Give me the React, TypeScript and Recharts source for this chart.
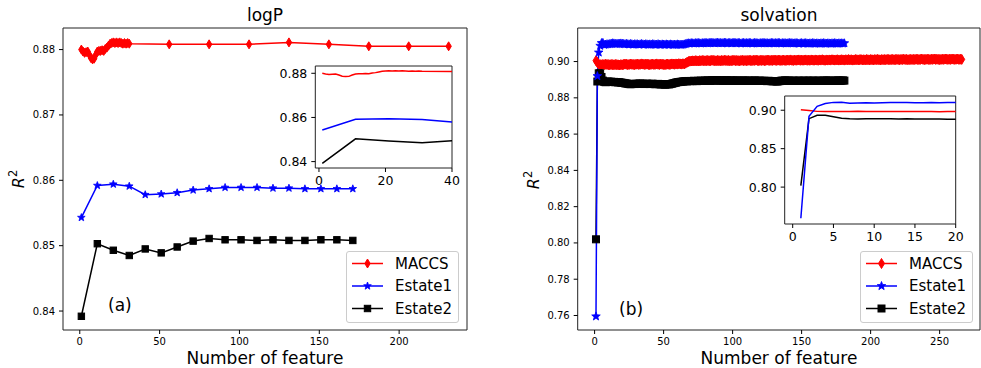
import React from "react";
import { LineChart, Line, XAxis, YAxis, CartesianGrid, ReferenceLine } from "recharts";

const FONT = "DejaVu Sans, sans-serif";

// ---- logP panel (a) ----
const LOGP_MACCS_X = [
  1, 2, 3, 4, 5, 6, 7, 8, 9, 10, 11, 12, 13, 14, 15, 16, 17, 18, 19, 20,
  21, 22, 23, 24, 25, 26, 27, 28, 29, 30, 31, 56, 81, 106, 131, 156, 181, 206, 231,
];
const LOGP_MACCS = [
  0.88, 0.8797, 0.8795, 0.8796, 0.8797, 0.8792, 0.8787, 0.8785, 0.8786, 0.8792,
  0.8797, 0.8798, 0.8798, 0.8799, 0.8798, 0.8801, 0.8803, 0.8806, 0.8809, 0.881,
  0.8811, 0.881, 0.8811, 0.881, 0.8811, 0.881, 0.8809, 0.881, 0.8809, 0.881, 0.8809,
  0.8808, 0.8808, 0.8808, 0.8811, 0.8808, 0.8805, 0.8805, 0.8805,
];
const LOGP_ESTATE_X = [1, 11, 21, 31, 41, 51, 61, 71, 81, 91, 101, 111, 121, 131, 141, 151, 161, 171];
const LOGP_ESTATE1 = [
  0.8543, 0.8592, 0.8594, 0.8591, 0.8578, 0.8579, 0.8581, 0.8585, 0.8587,
  0.8589, 0.8589, 0.8589, 0.8588, 0.8588, 0.8587, 0.8587, 0.8587, 0.8587,
];
const LOGP_ESTATE2 = [
  0.8392, 0.8503, 0.8493, 0.8485, 0.8495, 0.8489, 0.8498, 0.8507, 0.8511,
  0.8509, 0.8509, 0.8508, 0.8509, 0.8508, 0.8508, 0.8509, 0.8509, 0.8508,
];

// ---- solvation panel (b): one value per feature count, starting at 1 ----
const SOLV_MACCS = [
  0.9005, 0.8995, 0.8985, 0.8983, 0.8982, 0.8984, 0.8983, 0.8985, 0.8984, 0.8983,
  0.8982, 0.8984, 0.8983, 0.8982, 0.8984, 0.8983, 0.8982, 0.8981, 0.8983, 0.8982,
  0.8984, 0.8986, 0.8985, 0.8983, 0.8984, 0.8986, 0.8985, 0.8984, 0.8983, 0.8985,
  0.8986, 0.8984, 0.8985, 0.8987, 0.8986, 0.8984, 0.8985, 0.8986, 0.8984, 0.8983,
  0.8985, 0.8986, 0.8984, 0.8985, 0.8987, 0.8985, 0.8984, 0.8986, 0.8985, 0.8984,
  0.8983, 0.8985, 0.8986, 0.8984, 0.8985, 0.8987, 0.8986, 0.8985, 0.8987, 0.8986,
  0.8988, 0.8987, 0.8986, 0.8988, 0.8987, 0.8991, 0.8996, 0.9, 0.9002, 0.9003,
  0.9004, 0.9003, 0.9005, 0.9004, 0.9003, 0.9005, 0.9004, 0.9006, 0.9005, 0.9004,
  0.9005, 0.9006, 0.9004, 0.9005, 0.9007, 0.9006, 0.9005, 0.9004, 0.9006, 0.9005,
  0.9004, 0.9006, 0.9005, 0.9007, 0.9006, 0.9005, 0.9006, 0.9004, 0.9005, 0.9006,
  0.9007, 0.9005, 0.9006, 0.9005, 0.9004, 0.9006, 0.9007, 0.9005, 0.9006, 0.9005,
  0.9006, 0.9007, 0.9006, 0.9005, 0.9007, 0.9006, 0.9008, 0.9006, 0.9005, 0.9007,
  0.9006, 0.9007, 0.9005, 0.9006, 0.9008, 0.9007, 0.9006, 0.9007, 0.9006, 0.9008,
  0.9007, 0.9006, 0.9008, 0.9007, 0.9006, 0.9007, 0.9008, 0.9006, 0.9007, 0.9008,
  0.9007, 0.9009, 0.9007, 0.9006, 0.9008, 0.9007, 0.9008, 0.9009, 0.9007, 0.9008,
  0.9007, 0.9008, 0.9009, 0.9007, 0.9008, 0.9007, 0.9009, 0.9008, 0.9007, 0.9009,
  0.9008, 0.9007, 0.9009, 0.9008, 0.901, 0.9008, 0.9007, 0.9009, 0.9008, 0.9009,
  0.9008, 0.901, 0.9009, 0.9008, 0.9009, 0.901, 0.9008, 0.9009, 0.901, 0.9009,
  0.9008, 0.901, 0.9009, 0.9011, 0.9009, 0.901, 0.9008, 0.9009, 0.9011, 0.901,
  0.9009, 0.901, 0.9011, 0.9009, 0.901, 0.9009, 0.9011, 0.901, 0.9009, 0.9011,
  0.901, 0.9009, 0.9011, 0.901, 0.9012, 0.901, 0.9009, 0.9011, 0.901, 0.9011,
  0.901, 0.9012, 0.9011, 0.901, 0.9011, 0.9012, 0.901, 0.9011, 0.9012, 0.9011,
  0.901, 0.9012, 0.9011, 0.9013, 0.9011, 0.9012, 0.901, 0.9011, 0.9012, 0.9011,
  0.9012, 0.9011, 0.9013, 0.9012, 0.9011, 0.9012, 0.9014, 0.9012, 0.9011, 0.9012,
  0.9013, 0.9012, 0.9011, 0.9013, 0.9012, 0.9014, 0.9012, 0.9013, 0.9012, 0.9011,
  0.9012, 0.9013, 0.9012, 0.9014, 0.9013, 0.9012, 0.9013, 0.9012, 0.9014, 0.9013,
  0.9012, 0.9013, 0.9014, 0.9012, 0.9013, 0.9012,
];
const SOLV_ESTATE1 = [
  0.7595, 0.892, 0.905, 0.9087, 0.9102, 0.9103, 0.9092, 0.9094, 0.9096, 0.9095,
  0.9097, 0.9099, 0.9101, 0.91, 0.9098, 0.9097, 0.9099, 0.9098, 0.91, 0.9099,
  0.9097, 0.9096, 0.9098, 0.9096, 0.9095, 0.9097, 0.9096, 0.9094, 0.9096, 0.9095,
  0.9096, 0.9094, 0.9095, 0.9097, 0.9095, 0.9094, 0.9096, 0.9095, 0.9093, 0.9095,
  0.9094, 0.9096, 0.9095, 0.9093, 0.9094, 0.9096, 0.9094, 0.9093, 0.9095, 0.9094,
  0.9093, 0.9095, 0.9094, 0.9093, 0.9095, 0.9094, 0.9092, 0.9094, 0.9093, 0.9095,
  0.9094, 0.9093, 0.9092, 0.9094, 0.9095, 0.9097, 0.91, 0.9101, 0.91, 0.9102,
  0.9101, 0.91, 0.9102, 0.9101, 0.9103, 0.9101, 0.91, 0.9102, 0.9101, 0.9103,
  0.9102, 0.9101, 0.9103, 0.9102, 0.9104, 0.9102, 0.9101, 0.9103, 0.9104, 0.9102,
  0.9103, 0.9101, 0.9102, 0.9104, 0.9103, 0.9101, 0.9102, 0.9103, 0.9101, 0.9102,
  0.9104, 0.9102, 0.9101, 0.9103, 0.9102, 0.91, 0.9102, 0.9103, 0.9101, 0.9102,
  0.9101, 0.9103, 0.9102, 0.91, 0.9101, 0.9103, 0.9102, 0.9101, 0.91, 0.9102,
  0.9101, 0.9103, 0.9102, 0.9101, 0.9102, 0.91, 0.9101, 0.9103, 0.9102, 0.9101,
  0.9102, 0.9101, 0.9103, 0.9102, 0.91, 0.9102, 0.9101, 0.9102, 0.91, 0.9101,
  0.9103, 0.9101, 0.9102, 0.91, 0.9101, 0.9102, 0.9101, 0.9099, 0.9101, 0.9102,
  0.91, 0.9101, 0.9102, 0.91, 0.9099, 0.9101, 0.91, 0.9102, 0.9101, 0.9099,
  0.9101, 0.91, 0.9099, 0.9101, 0.91, 0.9102, 0.91, 0.9099, 0.9101, 0.91,
  0.9099, 0.9101, 0.91, 0.9102, 0.91, 0.9099, 0.9101, 0.91, 0.9101, 0.91,
  0.9101,
];
const SOLV_ESTATE2 = [
  0.802, 0.889, 0.8935, 0.8935, 0.8915, 0.8895, 0.8888, 0.8886, 0.8889, 0.889,
  0.8888, 0.8889, 0.8887, 0.8888, 0.8886, 0.8887, 0.8885, 0.8886, 0.8884, 0.8883,
  0.8882, 0.888, 0.8879, 0.8878, 0.8876, 0.8875, 0.8876, 0.8877, 0.8876, 0.8878,
  0.8877, 0.8878, 0.8879, 0.8877, 0.8878, 0.8876, 0.8877, 0.8878, 0.8877, 0.8876,
  0.8877, 0.8878, 0.8876, 0.8875, 0.8876, 0.8877, 0.8875, 0.8874, 0.8875, 0.8874,
  0.8873, 0.8874, 0.8875, 0.8874, 0.8876, 0.8878, 0.888, 0.8882, 0.8884, 0.8886,
  0.8887, 0.8888, 0.8889, 0.889, 0.8891, 0.8892, 0.8891, 0.8893, 0.8892, 0.8893,
  0.8892, 0.8894, 0.8893, 0.8892, 0.8894, 0.8893, 0.8895, 0.8894, 0.8893, 0.8895,
  0.8894, 0.8896, 0.8895, 0.8894, 0.8896, 0.8897, 0.8895, 0.8896, 0.8898, 0.8896,
  0.8895, 0.8896, 0.8894, 0.8895, 0.8897, 0.8896, 0.8895, 0.8894, 0.8896, 0.8895,
  0.8894, 0.8895, 0.8896, 0.8894, 0.8895, 0.8893, 0.8894, 0.8896, 0.8895, 0.8894,
  0.8895, 0.8894, 0.8893, 0.8895, 0.8894, 0.8896, 0.8894, 0.8893, 0.8894, 0.8895,
  0.8894, 0.8893, 0.8894, 0.8893, 0.8892, 0.8894, 0.8893, 0.8892, 0.8891, 0.8892,
  0.8891, 0.889, 0.8891, 0.8892, 0.8894, 0.8895, 0.8894, 0.8896, 0.8895, 0.8894,
  0.8895, 0.8894, 0.8893, 0.8895, 0.8894, 0.8893, 0.8894, 0.8895, 0.8894, 0.8893,
  0.8894, 0.8895, 0.8893, 0.8894, 0.8895, 0.8894, 0.8893, 0.8895, 0.8894, 0.8893,
  0.8894, 0.8895, 0.8894, 0.8893, 0.8894, 0.8895, 0.8894, 0.8896, 0.8894, 0.8895,
  0.8894, 0.8893, 0.8894, 0.8895, 0.8894, 0.8896, 0.8895, 0.8894, 0.8895, 0.8896,
  0.8895,
];

// ---- ticks ----
const LOGP_X_TICKS = [0, 50, 100, 150, 200];
const LOGP_Y_TICKS = [0.84, 0.85, 0.86, 0.87, 0.88];
const LOGP_INSET_X_TICKS = [0, 20, 40];
const LOGP_INSET_Y_TICKS = [0.84, 0.86, 0.88];
const SOLV_X_TICKS = [0, 50, 100, 150, 200, 250];
const SOLV_Y_TICKS = [0.76, 0.78, 0.8, 0.82, 0.84, 0.86, 0.88, 0.9];
const SOLV_INSET_X_TICKS = [0, 5, 10, 15, 20];
const SOLV_INSET_Y_TICKS = [0.8, 0.85, 0.9];

const SERIES = ["MACCS", "Estate1", "Estate2"];
const COLORS: Record<string, string> = { MACCS: "#ff0000", Estate1: "#0000ff", Estate2: "#000000" };
const KINDS: Record<string, string> = { MACCS: "diamond", Estate1: "star", Estate2: "square" };

const pairs = (xs: number[], ys: number[]) => ys.map((v, i) => ({ n: xs[i], r2: v }));
const bySize = (ys: number[]) => ys.map((v, i) => ({ n: i + 1, r2: v }));

const logpMaccs = pairs(LOGP_MACCS_X, LOGP_MACCS);
const logpEstate1 = pairs(LOGP_ESTATE_X, LOGP_ESTATE1);
const logpEstate2 = pairs(LOGP_ESTATE_X, LOGP_ESTATE2);
const solvMaccs = bySize(SOLV_MACCS);
const solvEstate1 = bySize(SOLV_ESTATE1);
const solvEstate2 = bySize(SOLV_ESTATE2);

function Marker({ kind, cx, cy, color, size }: { kind: string; cx: number; cy: number; color: string; size: number }) {
  if (cx == null || cy == null) return null;
  if (kind === "diamond") {
    const w = size * 0.6;
    return (
      <polygon
        points={`${cx},${cy - size} ${cx + w},${cy} ${cx},${cy + size} ${cx - w},${cy}`}
        fill={color}
        stroke={color}
        strokeWidth={1}
      />
    );
  }
  if (kind === "star") {
    const pts: string[] = [];
    for (let i = 0; i < 10; i++) {
      const a = -Math.PI / 2 + (i * Math.PI) / 5;
      const r = i % 2 === 0 ? size : size * 0.42;
      pts.push(`${cx + r * Math.cos(a)},${cy + r * Math.sin(a)}`);
    }
    return <polygon points={pts.join(" ")} fill={color} stroke={color} strokeWidth={0.8} />;
  }
  return <rect x={cx - size} y={cy - size} width={size * 2} height={size * 2} fill={color} stroke={color} strokeWidth={1} />;
}

const dotOf = (name: string, size: number) => (p: any) => (
  <Marker key={`${name}-${p.index}`} kind={KINDS[name]} cx={p.cx} cy={p.cy} color={COLORS[name]} size={size} />
);

const fmt2 = (v: number) => v.toFixed(2);

// top and right spines, drawn at the domain edges
function frame(xDomain: number[], yDomain: number[]) {
  return [
    <ReferenceLine key="top" y={yDomain[1]} stroke="#222" strokeWidth={1} ifOverflow="visible" />,
    <ReferenceLine key="right" x={xDomain[1]} stroke="#222" strokeWidth={1} ifOverflow="visible" />,
  ];
}

function LegendBox({ left, sizes }: { left: number; sizes: number[] }) {
  return (
    <div
      style={{
        position: "absolute", left, top: 251, width: 113, height: 72, boxSizing: "border-box",
        border: "1px solid #cccccc", borderRadius: 3, background: "rgba(255,255,255,0.8)",
      }}
    >
      <svg width={111} height={70} style={{ display: "block" }}>
        {SERIES.map((name, i) => {
          const y = 11.5 + i * 22.5;
          return (
            <g key={name}>
              <line x1={5} x2={36} y1={y} y2={y} stroke={COLORS[name]} strokeWidth={1.5} />
              <Marker kind={KINDS[name]} cx={20.5} cy={y} color={COLORS[name]} size={sizes[i]} />
              <text x={48} y={y} dy="0.36em" fontSize={15} fontFamily={FONT} fill="#000">{name}</text>
            </g>
          );
        })}
      </svg>
    </div>
  );
}

const tickStyle = { fontSize: 10, fill: "#000", fontFamily: FONT };
const insetTick = { fontSize: 12.5, fill: "#000", fontFamily: FONT };

export default function App() {
  const logpX = [-10.5, 242.5];
  const logpY = [0.8371, 0.8833];
  const logpInsetX = [-1.1, 40];
  const solvX = [-12.25, 279.25];
  const solvY = [0.752, 0.9185];
  const solvInsetX = [-0.98, 20];

  return (
    <div style={{ position: "absolute", left: 0, top: 0, width: 981, height: 368, background: "#fff", fontFamily: FONT }}>
      {/* (a) logP */}
      <div style={{ position: "absolute", left: 0, top: 0 }}>
        <LineChart width={490} height={368} margin={{ top: 28, right: 23, left: 23, bottom: 0 }}>
          <XAxis dataKey="n" type="number" domain={logpX} allowDataOverflow ticks={LOGP_X_TICKS}
            height={38} tick={tickStyle} tickSize={4} tickMargin={4} axisLine={{ stroke: "#222" }} tickLine={{ stroke: "#000" }} />
          <YAxis type="number" domain={logpY} allowDataOverflow ticks={LOGP_Y_TICKS} tickFormatter={fmt2}
            width={40} tick={tickStyle} tickSize={4} tickMargin={4} axisLine={{ stroke: "#222" }} tickLine={{ stroke: "#000" }} />
          {frame(logpX, logpY)}
          <Line data={logpMaccs} dataKey="r2" stroke={COLORS.MACCS} strokeWidth={1.5} dot={dotOf("MACCS", 4.5)} activeDot={false} isAnimationActive={false} />
          <Line data={logpEstate1} dataKey="r2" stroke={COLORS.Estate1} strokeWidth={1.5} dot={dotOf("Estate1", 4)} activeDot={false} isAnimationActive={false} />
          <Line data={logpEstate2} dataKey="r2" stroke={COLORS.Estate2} strokeWidth={1.5} dot={dotOf("Estate2", 3.2)} activeDot={false} isAnimationActive={false} />
        </LineChart>
      </div>
      <div style={{ position: "absolute", left: 270, top: 56 }}>
        <LineChart width={200} height={140} margin={{ top: 10, right: 18, left: 0, bottom: 0 }}>
          <CartesianGrid horizontal={false} vertical={false} fill="#ffffff" />
          <XAxis dataKey="n" type="number" domain={logpInsetX} allowDataOverflow ticks={LOGP_INSET_X_TICKS}
            height={28} tick={insetTick} tickSize={4} tickMargin={4} axisLine={{ stroke: "#222" }} tickLine={{ stroke: "#000" }} />
          <YAxis type="number" domain={logpY} allowDataOverflow ticks={LOGP_INSET_Y_TICKS} tickFormatter={fmt2}
            width={45.3} tick={insetTick} tickSize={4} tickMargin={4} axisLine={{ stroke: "#222" }} tickLine={{ stroke: "#000" }} />
          {frame(logpInsetX, logpY)}
          <Line data={logpMaccs} dataKey="r2" stroke={COLORS.MACCS} strokeWidth={1.5} dot={false} activeDot={false} isAnimationActive={false} />
          <Line data={logpEstate1} dataKey="r2" stroke={COLORS.Estate1} strokeWidth={1.5} dot={false} activeDot={false} isAnimationActive={false} />
          <Line data={logpEstate2} dataKey="r2" stroke={COLORS.Estate2} strokeWidth={1.5} dot={false} activeDot={false} isAnimationActive={false} />
        </LineChart>
      </div>
      <LegendBox left={346} sizes={[4.5, 4, 3.2]} />

      {/* (b) solvation */}
      <div style={{ position: "absolute", left: 490, top: 0 }}>
        <LineChart width={491} height={368} margin={{ top: 28, right: 1, left: 47.7, bottom: 0 }}>
          <XAxis dataKey="n" type="number" domain={solvX} allowDataOverflow ticks={SOLV_X_TICKS}
            height={38} tick={tickStyle} tickSize={4} tickMargin={4} axisLine={{ stroke: "#222" }} tickLine={{ stroke: "#000" }} />
          <YAxis type="number" domain={solvY} allowDataOverflow ticks={SOLV_Y_TICKS} tickFormatter={fmt2}
            width={40} tick={tickStyle} tickSize={4} tickMargin={4} axisLine={{ stroke: "#222" }} tickLine={{ stroke: "#000" }} />
          {frame(solvX, solvY)}
          <Line data={solvMaccs} dataKey="r2" stroke={COLORS.MACCS} strokeWidth={1.5} dot={dotOf("MACCS", 5)} activeDot={false} isAnimationActive={false} />
          <Line data={solvEstate2} dataKey="r2" stroke={COLORS.Estate2} strokeWidth={1.5} dot={dotOf("Estate2", 3.5)} activeDot={false} isAnimationActive={false} />
          <Line data={solvEstate1} dataKey="r2" stroke={COLORS.Estate1} strokeWidth={1.5} dot={dotOf("Estate1", 4.5)} activeDot={false} isAnimationActive={false} />
        </LineChart>
      </div>
      <div style={{ position: "absolute", left: 735, top: 86 }}>
        <LineChart width={240} height={168} margin={{ top: 10, right: 19.3, left: 0, bottom: 0 }}>
          <CartesianGrid horizontal={false} vertical={false} fill="#ffffff" />
          <XAxis dataKey="n" type="number" domain={solvInsetX} allowDataOverflow ticks={SOLV_INSET_X_TICKS}
            height={30} tick={insetTick} tickSize={4} tickMargin={4} axisLine={{ stroke: "#222" }} tickLine={{ stroke: "#000" }} />
          <YAxis type="number" domain={solvY} allowDataOverflow ticks={SOLV_INSET_Y_TICKS} tickFormatter={fmt2}
            width={49.7} tick={insetTick} tickSize={4} tickMargin={4} axisLine={{ stroke: "#222" }} tickLine={{ stroke: "#000" }} />
          {frame(solvInsetX, solvY)}
          <Line data={solvMaccs} dataKey="r2" stroke={COLORS.MACCS} strokeWidth={1.5} dot={false} activeDot={false} isAnimationActive={false} />
          <Line data={solvEstate2} dataKey="r2" stroke={COLORS.Estate2} strokeWidth={1.5} dot={false} activeDot={false} isAnimationActive={false} />
          <Line data={solvEstate1} dataKey="r2" stroke={COLORS.Estate1} strokeWidth={1.5} dot={false} activeDot={false} isAnimationActive={false} />
        </LineChart>
      </div>
      <LegendBox left={860} sizes={[5, 4.5, 3.5]} />

      {/* titles and axis labels */}
      <svg width={981} height={368} style={{ position: "absolute", left: 0, top: 0, pointerEvents: "none" }}>
        <g fontFamily={FONT} fill="#000">
          <text x={265} y={21} fontSize={17} textAnchor="middle">logP</text>
          <text x={779} y={21} fontSize={17} textAnchor="middle">solvation</text>
          <text x={265} y={364} fontSize={17} textAnchor="middle">Number of feature</text>
          <text x={779} y={364} fontSize={17} textAnchor="middle">Number of feature</text>
          <text x={108} y={311} fontSize={17}>(a)</text>
          <text x={619} y={315} fontSize={17}>(b)</text>
          <text transform="translate(24,179) rotate(-90)" fontSize={16} textAnchor="middle">
            <tspan fontStyle="italic">R</tspan>
            <tspan fontSize={11.5} dy={-7}>2</tspan>
          </text>
          <text transform="translate(538.5,180) rotate(-90)" fontSize={16} textAnchor="middle">
            <tspan fontStyle="italic">R</tspan>
            <tspan fontSize={11.5} dy={-7}>2</tspan>
          </text>
        </g>
      </svg>
    </div>
  );
}
